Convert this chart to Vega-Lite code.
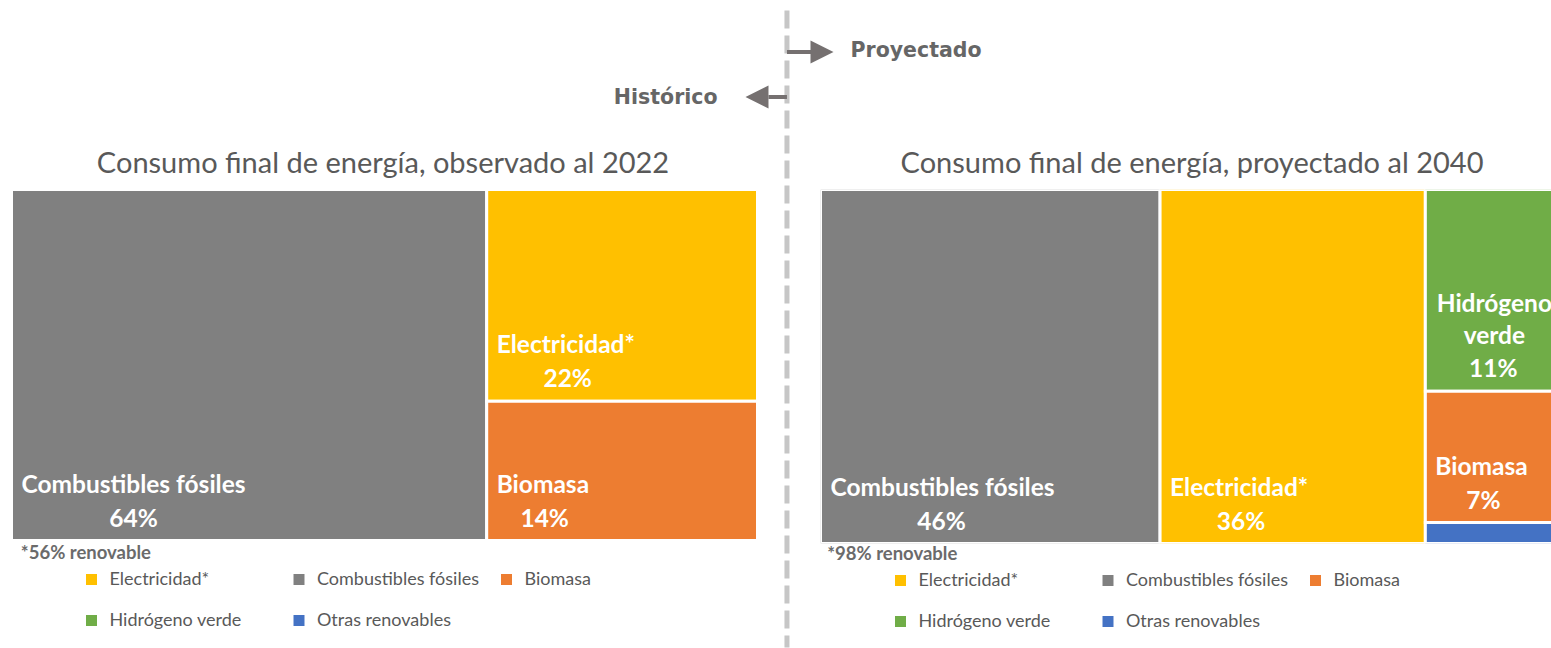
{
  "$schema": "https://vega.github.io/schema/vega-lite/v6.json",
  "background": "white",
  "padding": {"left": 9.5, "top": 7.5, "right": 0, "bottom": 0},
  "bounds": "flush",
  "spacing": 63,
  "config": {
    "view": {"stroke": null},
    "legend": {
      "orient": "none", "columns": 3, "direction": "horizontal", "title": null,
      "symbolType": "square", "symbolSize": 121, "symbolStrokeWidth": 0, "symbolOpacity": 1,
      "labelFont": "Lato", "labelFontSize": 18, "labelColor": "#595959", "labelOffset": 9, "labelLimit": 400,
      "gridAlign": "all", "columnPadding": 18.5, "rowPadding": 23, "padding": 0
    }
  },
  "datasets": {
    "observado2022": [
      {"categoria": "Combustibles fósiles", "valor": 0.637, "columna": 1, "orden": 1},
      {"categoria": "Electricidad*", "valor": 0.219, "columna": 2, "orden": 2},
      {"categoria": "Biomasa", "valor": 0.144, "columna": 2, "orden": 3}
    ],
    "proyectado2040": [
      {"categoria": "Combustibles fósiles", "valor": 0.457, "columna": 1, "orden": 1},
      {"categoria": "Electricidad*", "valor": 0.357, "columna": 2, "orden": 2},
      {"categoria": "Hidrógeno verde", "valor": 0.106, "columna": 3, "orden": 3},
      {"categoria": "Biomasa", "valor": 0.069, "columna": 3, "orden": 4},
      {"categoria": "Otras renovables", "valor": 0.011, "columna": 3, "orden": 5}
    ]
  },
  "hconcat": [
    {
      "width": 746,
      "height": 351,
      "layer": [
        {
          "data": {"name": "observado2022"},
          "transform": [
            {"stack": "valor", "groupby": [], "sort": [{"field": "orden", "order": "ascending"}], "offset": "normalize", "as": ["sx0", "sx1"]},
            {"joinaggregate": [{"op": "min", "field": "sx0", "as": "x0"}, {"op": "max", "field": "sx1", "as": "x1"}], "groupby": ["columna"]},
            {"stack": "valor", "groupby": ["columna"], "sort": [{"field": "orden", "order": "ascending"}], "offset": "normalize", "as": ["y0", "y1"]}
          ],
          "encoding": {
            "x": {"field": "x0", "type": "quantitative", "scale": {"domain": [0, 1], "nice": false, "zero": false}, "axis": null},
            "y": {"field": "y1", "type": "quantitative", "scale": {"domain": [0, 1], "nice": false, "reverse": true}, "axis": null}
          },
          "layer": [
            {
              "mark": {"type": "rect", "stroke": "white", "strokeWidth": 3},
              "encoding": {
                "x2": {"field": "x1"},
                "y": {"field": "y0", "type": "quantitative"},
                "y2": {"field": "y1"},
                "color": {
                  "field": "categoria", "type": "nominal",
                  "scale": {"domain": ["Electricidad*", "Combustibles fósiles", "Biomasa", "Hidrógeno verde", "Otras renovables"], "range": ["#FFC000", "#808080", "#ED7D31", "#70AD47", "#4472C4"]},
                  "legend": {"legendX": 71, "legendY": 381}
                }
              }
            },
            {
              "mark": {"type": "text", "align": "left", "baseline": "middle", "dx": 10, "dy": -55, "font": "Lato", "fontSize": 24.5, "fontWeight": "bold", "color": "white"},
              "encoding": {"text": {"field": "categoria"}}
            },
            {
              "transform": [{"filter": "datum.categoria === 'Combustibles fósiles'"}],
              "mark": {"type": "text", "align": "center", "baseline": "middle", "dx": 122, "dy": -21, "font": "Lato", "fontSize": 24.5, "fontWeight": "bold", "color": "white"},
              "encoding": {"text": {"field": "valor", "format": ".0%"}}
            },
            {
              "transform": [{"filter": "datum.categoria === 'Electricidad*'"}],
              "mark": {"type": "text", "align": "center", "baseline": "middle", "dx": 81, "dy": -21, "font": "Lato", "fontSize": 24.5, "fontWeight": "bold", "color": "white"},
              "encoding": {"text": {"field": "valor", "format": ".0%"}}
            },
            {
              "transform": [{"filter": "datum.categoria === 'Biomasa'"}],
              "mark": {"type": "text", "align": "center", "baseline": "middle", "dx": 58, "dy": -21, "font": "Lato", "fontSize": 24.5, "fontWeight": "bold", "color": "white"},
              "encoding": {"text": {"field": "valor", "format": ".0%"}}
            }
          ]
        },
        {
          "data": {"values": [{"titulo": "Consumo final de energía, observado al 2022"}]},
          "mark": {"type": "text", "align": "center", "baseline": "middle", "font": "Lato", "fontSize": 29, "color": "#595959"},
          "encoding": {"x": {"datum": 0.498, "type": "quantitative"}, "y": {"datum": -0.074, "type": "quantitative"}, "text": {"field": "titulo"}}
        },
        {
          "data": {"values": [{"nota": "*56% renovable"}]},
          "mark": {"type": "text", "align": "left", "baseline": "middle", "font": "Lato", "fontSize": 18.5, "fontWeight": "bold", "color": "#6b6b6b"},
          "encoding": {"x": {"datum": 0.0125, "type": "quantitative"}, "y": {"datum": 1.037, "type": "quantitative"}, "text": {"field": "nota"}}
        },
        {
          "data": {"values": [{"linea": "division"}]},
          "mark": {"type": "rule", "color": "#c6c6c6", "strokeWidth": 5, "strokeDash": [18, 7]},
          "encoding": {"x": {"datum": 1.0395, "type": "quantitative"}, "y": {"datum": -0.51, "type": "quantitative"}, "y2": {"datum": 1.305}}
        },
        {
          "data": {"values": [{"flecha": "Proyectado"}]},
          "mark": {"type": "rule", "color": "#757070", "strokeWidth": 4},
          "encoding": {"x": {"datum": 1.0395, "type": "quantitative"}, "x2": {"datum": 1.0737}, "y": {"datum": -0.3917, "type": "quantitative"}}
        },
        {
          "data": {"values": [{"flecha": "Proyectado"}]},
          "mark": {"type": "point", "shape": "M-1,-1L1,0L-1,1Z", "size": 529, "filled": true, "opacity": 1, "color": "#757070", "strokeWidth": 0},
          "encoding": {"x": {"datum": 1.0865, "type": "quantitative"}, "y": {"datum": -0.3917, "type": "quantitative"}}
        },
        {
          "data": {"values": [{"flecha": "Histórico"}]},
          "mark": {"type": "rule", "color": "#757070", "strokeWidth": 4},
          "encoding": {"x": {"datum": 1.0147, "type": "quantitative"}, "x2": {"datum": 1.0395}, "y": {"datum": -0.2635, "type": "quantitative"}}
        },
        {
          "data": {"values": [{"flecha": "Histórico"}]},
          "mark": {"type": "point", "shape": "M1,-1L-1,0L1,1Z", "size": 529, "filled": true, "opacity": 1, "color": "#757070", "strokeWidth": 0},
          "encoding": {"x": {"datum": 0.9993, "type": "quantitative"}, "y": {"datum": -0.2635, "type": "quantitative"}}
        },
        {
          "data": {"values": [{"rotulo": "Proyectado"}]},
          "mark": {"type": "text", "align": "left", "baseline": "middle", "font": "DejaVu Sans", "fontSize": 20.5, "fontWeight": "bold", "color": "#666666"},
          "encoding": {"x": {"datum": 1.1247, "type": "quantitative"}, "y": {"datum": -0.396, "type": "quantitative"}, "text": {"field": "rotulo"}}
        },
        {
          "data": {"values": [{"rotulo": "Histórico"}]},
          "mark": {"type": "text", "align": "right", "baseline": "middle", "font": "DejaVu Sans", "fontSize": 20.5, "fontWeight": "bold", "color": "#666666"},
          "encoding": {"x": {"datum": 0.9464, "type": "quantitative"}, "y": {"datum": -0.2621, "type": "quantitative"}, "text": {"field": "rotulo"}}
        }
      ]
    },
    {
      "width": 731,
      "height": 354,
      "layer": [
        {
          "data": {"name": "proyectado2040"},
          "transform": [
            {"stack": "valor", "groupby": [], "sort": [{"field": "orden", "order": "ascending"}], "offset": "normalize", "as": ["sx0", "sx1"]},
            {"joinaggregate": [{"op": "min", "field": "sx0", "as": "x0"}, {"op": "max", "field": "sx1", "as": "x1"}], "groupby": ["columna"]},
            {"stack": "valor", "groupby": ["columna"], "sort": [{"field": "orden", "order": "ascending"}], "offset": "normalize", "as": ["y0", "y1"]}
          ],
          "encoding": {
            "x": {"field": "x0", "type": "quantitative", "scale": {"domain": [0, 0.9838], "nice": false, "zero": false}, "axis": null},
            "y": {"field": "y1", "type": "quantitative", "scale": {"domain": [0, 1], "nice": false, "reverse": true}, "axis": null}
          },
          "layer": [
            {
              "mark": {"type": "rect", "stroke": "white", "strokeWidth": 3, "clip": true},
              "encoding": {
                "x2": {"field": "x1"},
                "y": {"field": "y0", "type": "quantitative"},
                "y2": {"field": "y1"},
                "color": {
                  "field": "categoria", "type": "nominal",
                  "scale": {"domain": ["Electricidad*", "Combustibles fósiles", "Biomasa", "Hidrógeno verde", "Otras renovables"], "range": ["#FFC000", "#808080", "#ED7D31", "#70AD47", "#4472C4"]},
                  "legend": {"legendX": 71, "legendY": 382}
                }
              }
            },
            {
              "transform": [{"filter": "datum.categoria !== 'Hidrógeno verde' && datum.categoria !== 'Otras renovables'"}],
              "mark": {"type": "text", "align": "left", "baseline": "middle", "dx": 10, "dy": -55, "font": "Lato", "fontSize": 24.5, "fontWeight": "bold", "color": "white"},
              "encoding": {"text": {"field": "categoria"}}
            },
            {
              "transform": [{"filter": "datum.categoria === 'Hidrógeno verde'"}],
              "mark": {"type": "text", "align": "center", "baseline": "middle", "lineBreak": " ", "lineHeight": 32, "dx": 69, "dy": -86, "font": "Lato", "fontSize": 24.5, "fontWeight": "bold", "color": "white", "clip": true},
              "encoding": {"text": {"field": "categoria"}}
            },
            {
              "transform": [{"filter": "datum.categoria === 'Combustibles fósiles'"}],
              "mark": {"type": "text", "align": "center", "baseline": "middle", "dx": 121, "dy": -21, "font": "Lato", "fontSize": 24.5, "fontWeight": "bold", "color": "white"},
              "encoding": {"text": {"field": "valor", "format": ".0%"}}
            },
            {
              "transform": [{"filter": "datum.categoria === 'Electricidad*'"}],
              "mark": {"type": "text", "align": "center", "baseline": "middle", "dx": 81, "dy": -21, "font": "Lato", "fontSize": 24.5, "fontWeight": "bold", "color": "white"},
              "encoding": {"text": {"field": "valor", "format": ".0%"}}
            },
            {
              "transform": [{"filter": "datum.categoria === 'Hidrógeno verde'"}],
              "mark": {"type": "text", "align": "center", "baseline": "middle", "dx": 68, "dy": -21, "font": "Lato", "fontSize": 24.5, "fontWeight": "bold", "color": "white"},
              "encoding": {"text": {"field": "valor", "format": ".0%"}}
            },
            {
              "transform": [{"filter": "datum.categoria === 'Biomasa'"}],
              "mark": {"type": "text", "align": "center", "baseline": "middle", "dx": 58, "dy": -21, "font": "Lato", "fontSize": 24.5, "fontWeight": "bold", "color": "white"},
              "encoding": {"text": {"field": "valor", "format": ".0%"}}
            }
          ]
        },
        {
          "data": {"values": [{"titulo": "Consumo final de energía, proyectado al 2040"}]},
          "mark": {"type": "text", "align": "center", "baseline": "middle", "font": "Lato", "fontSize": 29, "color": "#595959"},
          "encoding": {"x": {"datum": 0.5, "type": "quantitative"}, "y": {"datum": -0.0734, "type": "quantitative"}, "text": {"field": "titulo"}}
        },
        {
          "data": {"values": [{"nota": "*98% renovable"}]},
          "mark": {"type": "text", "align": "left", "baseline": "middle", "font": "Lato", "fontSize": 18.5, "fontWeight": "bold", "color": "#6b6b6b"},
          "encoding": {"x": {"datum": 0.009, "type": "quantitative"}, "y": {"datum": 1.031, "type": "quantitative"}, "text": {"field": "nota"}}
        }
      ]
    }
  ],
  "resolve": {"scale": {"color": "independent", "x": "independent", "y": "independent"}, "legend": {"color": "independent"}}
}
